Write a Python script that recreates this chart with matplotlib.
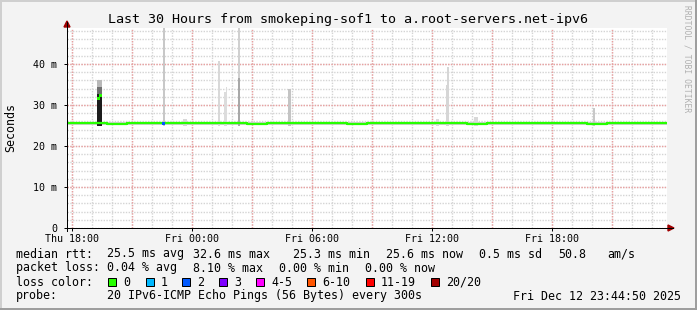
"""Smokeping latency graph, 30 hours"""
import matplotlib
matplotlib.use("Agg")
import matplotlib.pyplot as plt
from matplotlib.lines import Line2D
from matplotlib.patches import Rectangle, Polygon

W, H = 697, 310
MONO = "DejaVu Sans Mono"

title = "Last 30 Hours from smokeping-sof1 to a.root-servers.net-ipv6"

# time axis: hours since start of graph (Thu 17:44:50)
tick_hours = [0.25, 6.25, 12.25, 18.25, 24.25]
tick_labels = ["Thu 18:00", "Fri 00:00", "Fri 06:00", "Fri 12:00", "Fri 18:00"]
major_grid_hours = [0.25, 3.25, 6.25, 9.25, 12.25, 15.25, 18.25, 21.25, 24.25, 27.25]

y_ticks = [0, 10, 20, 30, 40]          # ms
y_labels = ["0", "10 m", "20 m", "30 m", "40 m"]
y_max = 48.8

# median rtt per hour (ms)
median_hours = list(range(31))
median_ms = [25.5, 25.5, 25.4, 25.5, 25.5, 25.5, 25.6, 25.5, 25.5, 25.4,
             25.5, 25.5, 25.5, 25.5, 25.4, 25.5, 25.5, 25.5, 25.5, 25.5,
             25.4, 25.5, 25.5, 25.5, 25.5, 25.5, 25.4, 25.5, 25.5, 25.5, 25.5]

# base smoke band (ms)
smoke_low, smoke_high = 25.1, 25.9

# smoke spikes: hour, width (h), bottom, top (ms), colour
spike_hour = [1.50, 1.50, 1.50, 4.78, 5.80, 7.53, 7.86, 7.93, 8.53, 8.53,
              11.06, 18.47, 18.93, 19.02, 20.35, 26.28]
spike_width = [0.25, 0.25, 0.25, 0.14, 0.20, 0.12, 0.08, 0.09, 0.14, 0.14,
               0.14, 0.15, 0.09, 0.09, 0.18, 0.14]
spike_bottom = [25.0, 32.8, 34.3, 25.0, 25.0, 25.0, 25.0, 25.0, 25.0, 25.0,
                25.0, 25.0, 25.0, 25.0, 25.0, 25.0]
spike_top = [32.8, 34.3, 36.1, 50.0, 26.5, 40.8, 33.2, 34.5, 50.0, 36.6,
             33.8, 26.6, 34.9, 39.3, 27.1, 29.2]
spike_color = ["#1c1c1c", "#707070", "#b8b8b8", "#c8c8c8", "#d8d8d8",
               "#d8d8d8", "#dcdcdc", "#dcdcdc", "#d0d0d0", "#a8a8a8",
               "#c4c4c4", "#dadada", "#d6d6d6", "#d6d6d6", "#d8d8d8", "#c8c8c8"]

# individual median samples with their loss colour
dot_hours = [1.58, 1.66, 4.82]
dot_ms = [31.6, 32.4, 25.5]
dot_color = ["#26ff00", "#26ff00", "#0059ff"]

loss_labels = ["0", "1", "2", "3", "4-5", "6-10", "11-19", "20/20"]
loss_colors = ["#26ff00", "#00b8ff", "#0059ff", "#7e00ff", "#ff00ff",
               "#ff5500", "#ff0000", "#a10000"]

rtt_row = ["25.5 ms avg", "32.6 ms max", "25.3 ms min", "25.6 ms now",
           "0.5 ms sd", "50.8", "am/s"]
loss_row = ["0.04 % avg", "8.10 % max", "0.00 % min", "0.00 % now"]
probe_text = "20 IPv6-ICMP Echo Pings (56 Bytes) every 300s"
stamp = "Fri Dec 12 23:44:50 2025"


def fx(x):
    return x / W


def fy(y):
    return 1 - y / H


fig = plt.figure(figsize=(W / 100, H / 100), dpi=100, facecolor="#f3f3f3")

# 3d frame
px = 72 / 100
fig.add_artist(Line2D([0, 1], [fy(1), fy(1)], color="#cfcfcf", lw=2 * px))
fig.add_artist(Line2D([fx(1), fx(1)], [0, 1], color="#cfcfcf", lw=2 * px))
fig.add_artist(Line2D([0, 1], [fy(309), fy(309)], color="#9e9e9e", lw=2 * px))
fig.add_artist(Line2D([fx(696), fx(696)], [0, 1], color="#9e9e9e", lw=2 * px))

left, right, top, bottom = 67, 667, 28, 228
ax = fig.add_axes([fx(left), fy(bottom), (right - left) / W, (bottom - top) / H])
ax.set_facecolor("white")
ax.set_xlim(0, 30)
ax.set_ylim(0, y_max)

# dotted grid
dot = dict(lw=1.0, ls=(0, (1, 1)))
for h in range(31):
    xh = h + 0.25
    if xh < 30:
        ax.axvline(xh, color="#d4d4d4", zorder=1, **dot)
for v in range(0, 50, 2):
    ax.axhline(v, color="#d4d4d4", zorder=1, **dot)
for xh in major_grid_hours:
    ax.axvline(xh, color="#eba0a0", zorder=1.5, **dot)
for v in y_ticks[1:]:
    ax.axhline(v, color="#eba0a0", zorder=1.5, **dot)

# smoke
ax.fill_between([0, 30], smoke_low, smoke_high, color="#cfcfcf", lw=0, zorder=2)
ax.bar(spike_hour, [t - b for t, b in zip(spike_top, spike_bottom)],
       bottom=spike_bottom, width=spike_width, color=spike_color,
       align="edge", lw=0, zorder=2.5)

# median
ax.step(median_hours, median_ms, where="post", color="#26ff00", lw=1.6, zorder=3)
ax.scatter(dot_hours, dot_ms, c=dot_color, marker="s", s=5, lw=0, zorder=4)

for s in ["top", "right"]:
    ax.spines[s].set_visible(False)
for s in ["left", "bottom"]:
    ax.spines[s].set_color("black")
    ax.spines[s].set_linewidth(px)

ax.set_xticks(tick_hours)
ax.set_xticklabels(tick_labels, fontfamily=MONO, fontsize=7.2)
ax.set_yticks(y_ticks)
ax.set_yticklabels(y_labels, fontfamily=MONO, fontsize=7.2)
ax.tick_params(axis="both", length=2, width=px, pad=2, colors="black")
ax.tick_params(axis="y", pad=5)

# axis arrows
fig.add_artist(Line2D([fx(left), fx(673)], [fy(bottom), fy(bottom)], color="black", lw=px))
fig.add_artist(Line2D([fx(left), fx(left)], [fy(bottom + 3), fy(22)], color="black", lw=px))
fig.add_artist(Polygon([[fx(668), fy(225)], [fx(674), fy(228)], [fx(668), fy(231)]],
                       closed=True, color="#a00000", transform=fig.transFigure))
fig.add_artist(Polygon([[fx(64), fy(27)], [fx(67), fy(21)], [fx(70), fy(27)]],
                       closed=True, color="#a00000", transform=fig.transFigure))

# texts
fig.text(fx(348), fy(19), title, fontfamily=MONO, fontsize=9.6, ha="center", va="center")
fig.text(fx(11), fy(128), "Seconds", fontfamily=MONO, fontsize=8.4, rotation=90,
         ha="center", va="center")
fig.text(fx(687), fy(59), "RRDTOOL / TOBI OETIKER", fontfamily=MONO, fontsize=5.8,
         rotation=270, ha="center", va="center", color="#b0b0b0")

lab = dict(fontfamily=MONO, fontsize=8.4, va="center")
fig.text(fx(16), fy(254), "median rtt:", **lab)
for x, t in zip([107, 193, 293, 386, 479, 558, 607], rtt_row):
    fig.text(fx(x), fy(254), t, **lab)
fig.text(fx(16), fy(268), "packet loss:", **lab)
for x, t in zip([107, 193, 279, 365], loss_row):
    fig.text(fx(x), fy(268), t, **lab)
fig.text(fx(16), fy(282), "loss color:", **lab)
box_x = [108, 146, 182, 219, 256, 307, 366, 431]
for x, t, c in zip(box_x, loss_labels, loss_colors):
    fig.add_artist(Rectangle((fx(x), fy(286)), 8 / W, 8 / H, facecolor=c,
                             edgecolor="black", lw=px, transform=fig.transFigure))
    fig.text(fx(x + 15), fy(282), t, **lab)
fig.text(fx(16), fy(296), "probe:", **lab)
fig.text(fx(107), fy(296), probe_text, **lab)
fig.text(fx(681), fy(296), stamp, ha="right", fontfamily=MONO, fontsize=8.4, va="center")

fig.savefig("out.png", dpi=100, facecolor=fig.get_facecolor())
